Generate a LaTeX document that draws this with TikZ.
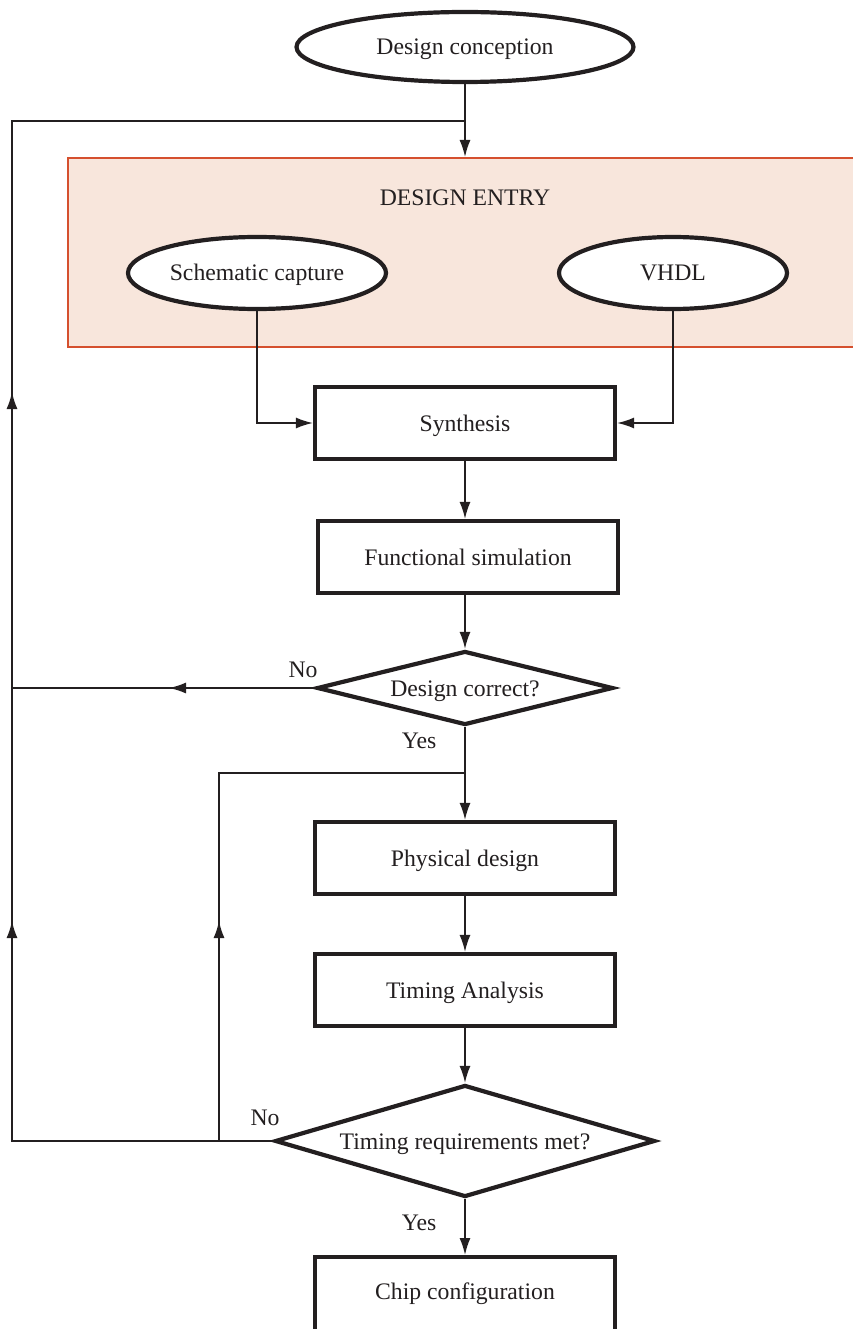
\documentclass[tikz,border=0pt]{standalone}
\usepackage{fontspec}
\setmainfont{Liberation Serif}
\usetikzlibrary{shapes.geometric,arrows.meta}
\definecolor{entryfill}{HTML}{F8E6DC}
\definecolor{entryline}{HTML}{D5502E}
\definecolor{lc}{HTML}{231F20}
\begin{document}
\begin{tikzpicture}[x=1pt,y=-1pt,
  font=\fontsize{23.7}{28}\selectfont,
  every node/.style={inner sep=0pt, text=lc, text height=16pt, text depth=0pt},
  oval/.style={ellipse,draw=lc,line width=4.2pt,fill=white},
  stepbox/.style={rectangle,draw=lc,line width=4.2pt,fill=white,minimum width=300pt,minimum height=72pt},
  decision/.style={diamond,draw=lc,line width=4.2pt,fill=white},
  conn/.style={draw=lc,line width=1.6pt},
  arr/.style={conn,-{Latex[length=17pt,width=11pt]}}]
\useasboundingbox (0,0) rectangle (853,1329);
\clip (0,0) rectangle (853,1329);

% design entry area
\node[draw=entryline, fill=entryfill, line width=2pt, minimum width=812pt, minimum height=189pt] (entry) at (474,252.5) {};
\node (title) at (465,198) {DESIGN ENTRY};

% nodes
\node[oval, minimum width=337pt, minimum height=70pt] (dc) at (465,47) {Design conception};
\node[oval, minimum width=258pt, minimum height=72pt] (sc) at (257,273) {Schematic capture};
\node[oval, minimum width=228pt, minimum height=72pt] (vhdl) at (673,273) {VHDL};
\node[stepbox] (syn) at (465,423) {Synthesis};
\node[stepbox] (fs) at (468,557) {Functional simulation};
\node[decision, shape aspect=4.0, minimum width=296pt, minimum height=74pt] (dq) at (465,688) {Design correct?};
\node[stepbox] (pd) at (465,858) {Physical design};
\node[stepbox] (ta) at (465,990) {Timing Analysis};
\node[decision, shape aspect=3.39, minimum width=380pt, minimum height=112pt] (tq) at (465,1141) {Timing requirements met?};
\node[stepbox, minimum height=150pt, anchor=north] (cc) at (465,1255) {};
\node (cct) at (465,1291) {Chip configuration};

% labels
\node (no1) at (303,669) {No};
\node (yes1) at (419,740) {Yes};
\node (no2) at (265,1117) {No};
\node (yes2) at (419,1222) {Yes};

% coordinates
\coordinate (j1) at (465,121);
\coordinate (lt) at (12,121);
\coordinate (lb) at (12,1141);
\coordinate (lm) at (12,688);
\coordinate (la1) at (12,392);
\coordinate (la2) at (12,921);
\coordinate (na) at (169,688);
\coordinate (j2) at (465,773);
\coordinate (m1) at (219,773);
\coordinate (m2) at (219,1141);
\coordinate (ma) at (219,921);

% connectors
\draw[arr] (dc.south) -- (dc.south |- entry.north);
\draw[conn] (tq.west) -- (lb) -- (lt) -- (j1);
\draw[arr] (lb) -- (la2);
\draw[arr] (lm) -- (la1);
\draw[conn] (dq.west) -- (lm);
\draw[arr] (dq.west) -- (na);
\draw[arr] (sc.south) |- (syn.west);
\draw[arr] (vhdl.south) |- (syn.east);
\draw[arr] (syn.south) -- (syn.south |- fs.north);
\draw[arr] (dq.north |- fs.south) -- (dq.north);
\draw[arr] (dq.south) -- (pd.north);
\draw[conn] (j2) -- (m1) -- (m2);
\draw[arr] (m2) -- (ma);
\draw[arr] (pd.south) -- (ta.north);
\draw[arr] (ta.south) -- (tq.north);
\draw[arr] (tq.south) -- (cc.north);
\end{tikzpicture}
\end{document}
